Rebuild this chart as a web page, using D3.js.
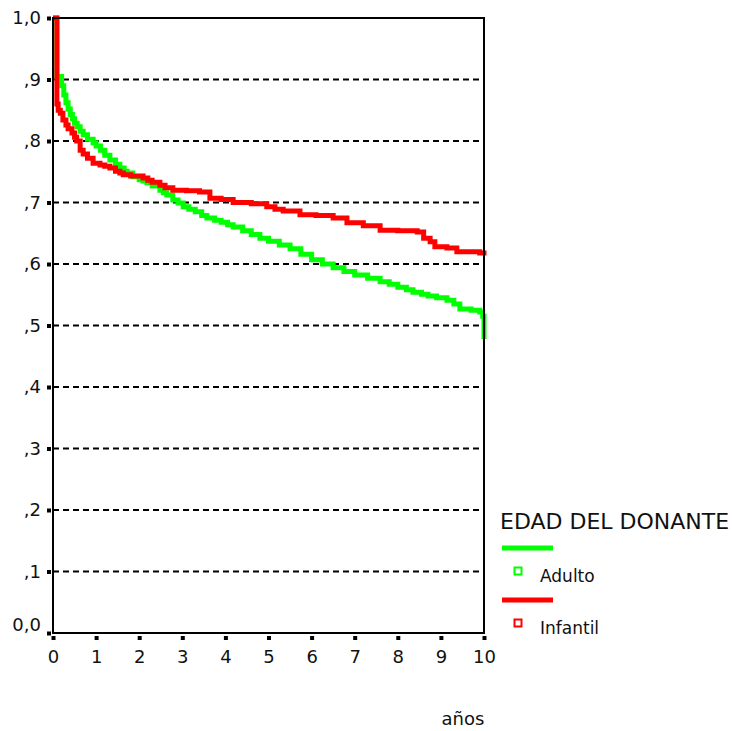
<!DOCTYPE html>
<html><head><meta charset="utf-8">
<script src="https://cdn.jsdelivr.net/npm/d3@7"></script>
<style>body{margin:0;background:#fff}svg{display:block}text{font-family:"DejaVu Sans",sans-serif;fill:#111}</style>
</head><body>
<script>
const xTicks = [0,1,2,3,4,5,6,7,8,9,10];
const yTicks = [0,0.1,0.2,0.3,0.4,0.5,0.6,0.7,0.8,0.9,1.0];
const yTickLabels = ["0,0",",1",",2",",3",",4",",5",",6",",7",",8",",9","1,0"];
const seriesNames = ["Adulto","Infantil"];
const seriesColors = ["#00ff00","#ff0000"];
const adultoT = [0,0.09,0.2,0.25,0.3,0.35,0.4,0.45,0.5,0.56,0.63,0.7,0.8,0.93,1.0,1.1,1.2,1.32,1.45,1.55,1.65,1.72,1.85,2.0,2.09,2.18,2.3,2.48,2.56,2.64,2.78,2.9,3.02,3.15,3.3,3.45,3.57,3.75,3.9,4.05,4.18,4.4,4.6,4.8,5.0,5.25,5.5,5.75,6.0,6.25,6.5,6.75,7.0,7.3,7.59,7.8,8.0,8.2,8.35,8.55,8.7,8.9,9.14,9.3,9.44,9.7,9.9,9.97,10.0];
const adultoS = [1.0,0.905,0.89,0.875,0.862,0.852,0.843,0.836,0.829,0.823,0.816,0.81,0.803,0.797,0.792,0.785,0.777,0.769,0.762,0.756,0.751,0.748,0.742,0.737,0.735,0.732,0.727,0.72,0.716,0.712,0.704,0.699,0.693,0.689,0.685,0.679,0.675,0.671,0.668,0.664,0.66,0.654,0.648,0.642,0.637,0.631,0.625,0.616,0.607,0.6,0.594,0.588,0.582,0.577,0.571,0.567,0.562,0.558,0.554,0.551,0.548,0.545,0.541,0.535,0.527,0.525,0.522,0.515,0.478];
const infantilT = [0,0.09,0.12,0.17,0.23,0.3,0.35,0.44,0.5,0.55,0.63,0.7,0.8,0.93,1.09,1.2,1.32,1.45,1.55,1.63,1.8,2.09,2.2,2.3,2.48,2.6,2.78,3.1,3.4,3.64,3.9,4.18,4.6,4.96,5.15,5.34,5.73,6.1,6.5,6.82,7.2,7.59,8.0,8.45,8.6,8.75,8.86,9.14,9.37,9.9,10.0];
const infantilS = [1.0,0.86,0.85,0.845,0.834,0.826,0.82,0.813,0.806,0.80,0.785,0.779,0.772,0.764,0.761,0.759,0.756,0.751,0.748,0.745,0.743,0.740,0.736,0.733,0.728,0.724,0.72,0.719,0.717,0.707,0.705,0.70,0.698,0.693,0.689,0.686,0.68,0.679,0.675,0.667,0.662,0.655,0.654,0.652,0.642,0.636,0.628,0.626,0.620,0.618,0.614];

const W=734,H=731;
const FONT='"DejaVu Sans",sans-serif';
const svg=d3.select("body").append("svg").attr("width",W).attr("height",H);
const x=d3.scaleLinear().domain([0,10]).range([53,484]);
const y=d3.scaleLinear().domain([0,1]).range([633,18]);

// grid dashed
svg.append("g").selectAll("line").data(yTicks.filter(v=>v>0&&v<1)).join("line")
  .attr("x1",x(0)).attr("x2",x(10)).attr("y1",d=>y(d)).attr("y2",d=>y(d))
  .attr("stroke","#000").attr("stroke-width",2).attr("stroke-dasharray","6,4");

// curves
const line=d3.line().x(d=>x(d[0])).y(d=>y(d[1])).curve(d3.curveStepAfter);
const series=[d3.zip(adultoT,adultoS),d3.zip(infantilT,infantilS)];
series.forEach((s,i)=>{
  svg.append("path").datum(s).attr("d",line).attr("fill","none")
    .attr("stroke",seriesColors[i]).attr("stroke-width",5).attr("stroke-linejoin","miter");
});

// frame
svg.append("rect").attr("x",x(0)).attr("y",y(1)).attr("width",x(10)-x(0)).attr("height",y(0)-y(1))
  .attr("fill","none").attr("stroke","#000").attr("stroke-width",2);

// axes with square tick marks
const xa=d3.axisBottom(x).tickValues(xTicks).tickSize(0).tickPadding(17).tickFormat(d3.format("d"));
const gx=svg.append("g").attr("transform",`translate(0,${y(0)})`).call(xa);
gx.attr("font-family",FONT).attr("font-size",18);
gx.select(".domain").remove();
gx.selectAll("text").attr("fill","#111");
gx.selectAll(".tick").append("rect").attr("x",-2).attr("y",3).attr("width",4).attr("height",4).attr("fill","#000");

const ya=d3.axisLeft(y).tickValues(yTicks).tickSize(0).tickPadding(12).tickFormat((d,i)=>yTickLabels[i]);
const gy=svg.append("g").attr("transform",`translate(${x(0)},0)`).call(ya);
gy.attr("font-family",FONT).attr("font-size",18);
gy.select(".domain").remove();
gy.selectAll("text").attr("fill","#111").attr("dy",(d)=>d===0?"-0.12em":"0.32em");
gy.selectAll(".tick").append("rect").attr("x",-6).attr("y",-2).attr("width",4).attr("height",4).attr("fill","#000");

// x label
svg.append("text").attr("x",463).attr("y",725).attr("text-anchor","middle").attr("font-size",18).text("años");

// legend
const lg=svg.append("g");
lg.append("text").attr("x",500).attr("y",529).attr("font-size",22).text("EDAD DEL DONANTE");
seriesNames.forEach((n,i)=>{
  const oy=548+i*52;
  lg.append("line").attr("x1",502).attr("x2",553).attr("y1",oy).attr("y2",oy).attr("stroke",seriesColors[i]).attr("stroke-width",5);
  lg.append("rect").attr("x",514.5).attr("y",oy+19.5).attr("width",7).attr("height",7).attr("fill","#fff").attr("stroke",seriesColors[i]).attr("stroke-width",2);
  lg.append("text").attr("x",540).attr("y",oy+34).attr("font-size",17).text(n);
});
</script>
</body></html>
